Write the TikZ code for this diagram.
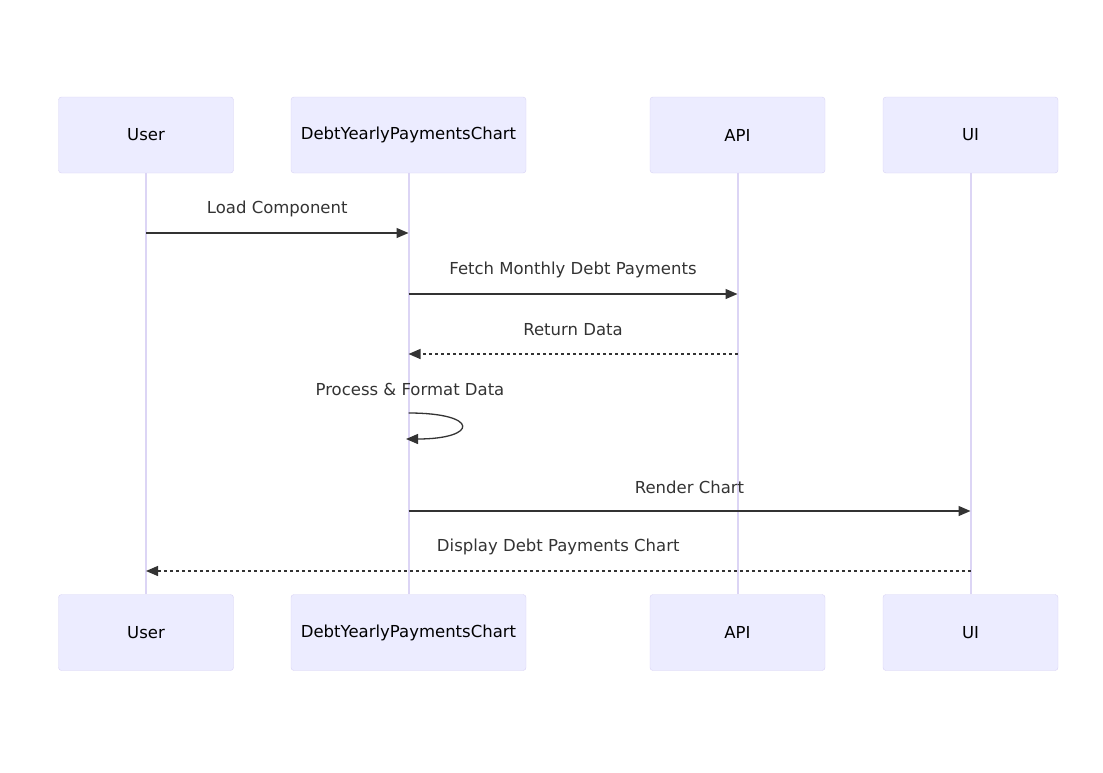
\documentclass[tikz,border=0pt]{standalone}
\usepackage{fontspec}
\setmainfont{DejaVu Sans}
\usetikzlibrary{arrows.meta}

\definecolor{actorfill}{HTML}{ECECFF}
\definecolor{actorline}{HTML}{D8D2F4}
\definecolor{lifecol}{HTML}{DCD5F5}
\definecolor{msgcol}{HTML}{333333}

\tikzset{
  actor/.style={draw=actorline,fill=actorfill,rounded corners=3pt,
                minimum width=175pt,minimum height=76pt,inner sep=0pt,
                font=\fontsize{16.5}{19}\selectfont,text=black},
  wideactor/.style={actor,minimum width=235pt},
  lifeline/.style={draw=lifecol,line width=2pt},
  msg/.style={draw=msgcol,line width=1.3pt},
  reply/.style={msg,dash pattern=on 3pt off 3pt},
  msglabel/.style={font=\fontsize{16.5}{19}\selectfont,text=msgcol,yshift=24pt}
}

\begin{document}
\begin{tikzpicture}[x=1pt,y=-1pt,>={Triangle[length=12pt,width=10pt]}]
\useasboundingbox (0,0) rectangle (1103,772);

% actors, top and bottom
\begin{scope}[every node/.style={actor}]
    \node (user) at (146,135) {User};
    \node[wideactor] (chart) at (408.5,135) {DebtYearlyPaymentsChart};
    \node (api) at (737.5,135) {API};
    \node (ui) at (970.5,135) {UI};
    \node (userB) at (146,632.5) {User};
    \node[wideactor] (chartB) at (408.5,632.5) {DebtYearlyPaymentsChart};
    \node (apiB) at (737.5,632.5) {API};
    \node (uiB) at (970.5,632.5) {UI};
\end{scope}

% lifelines
\draw [lifeline] (user) -- (userB);
\draw [lifeline] (chart) -- (chartB);
\draw [lifeline] (api) -- (apiB);
\draw [lifeline] (ui) -- (uiB);

% message end points
\coordinate (load1) at (146,233);
\coordinate (load2) at (408.5,233);
\coordinate (fetch1) at (408.5,294);
\coordinate (fetch2) at (737.5,294);
\coordinate (ret1) at (737.5,354);
\coordinate (ret2) at (408.5,354);
\coordinate (proc1) at (408.5,413);
\coordinate (proc2) at (406,439);
\coordinate (rend1) at (408.5,511);
\coordinate (rend2) at (970.5,511);
\coordinate (disp1) at (970.5,571);
\coordinate (disp2) at (146,571);

\begin{scope}[every node/.style={msglabel}]
    \path [->] (load1) edge[msg] node {Load Component} (load2);
    \path [->] (fetch1) edge[msg] node {Fetch Monthly Debt Payments} (fetch2);
    \path [->] (ret1) edge[reply] node {Return Data} (ret2);
    \draw [->,msg] (proc1) .. controls +(72,0) and +(72,0) .. (proc2);
    \node at (410,413) {Process \& Format Data};
    \path [->] (rend1) edge[msg] node {Render Chart} (rend2);
    \path [->] (disp1) edge[reply] node {Display Debt Payments Chart} (disp2);
\end{scope}
\end{tikzpicture}
\end{document}
